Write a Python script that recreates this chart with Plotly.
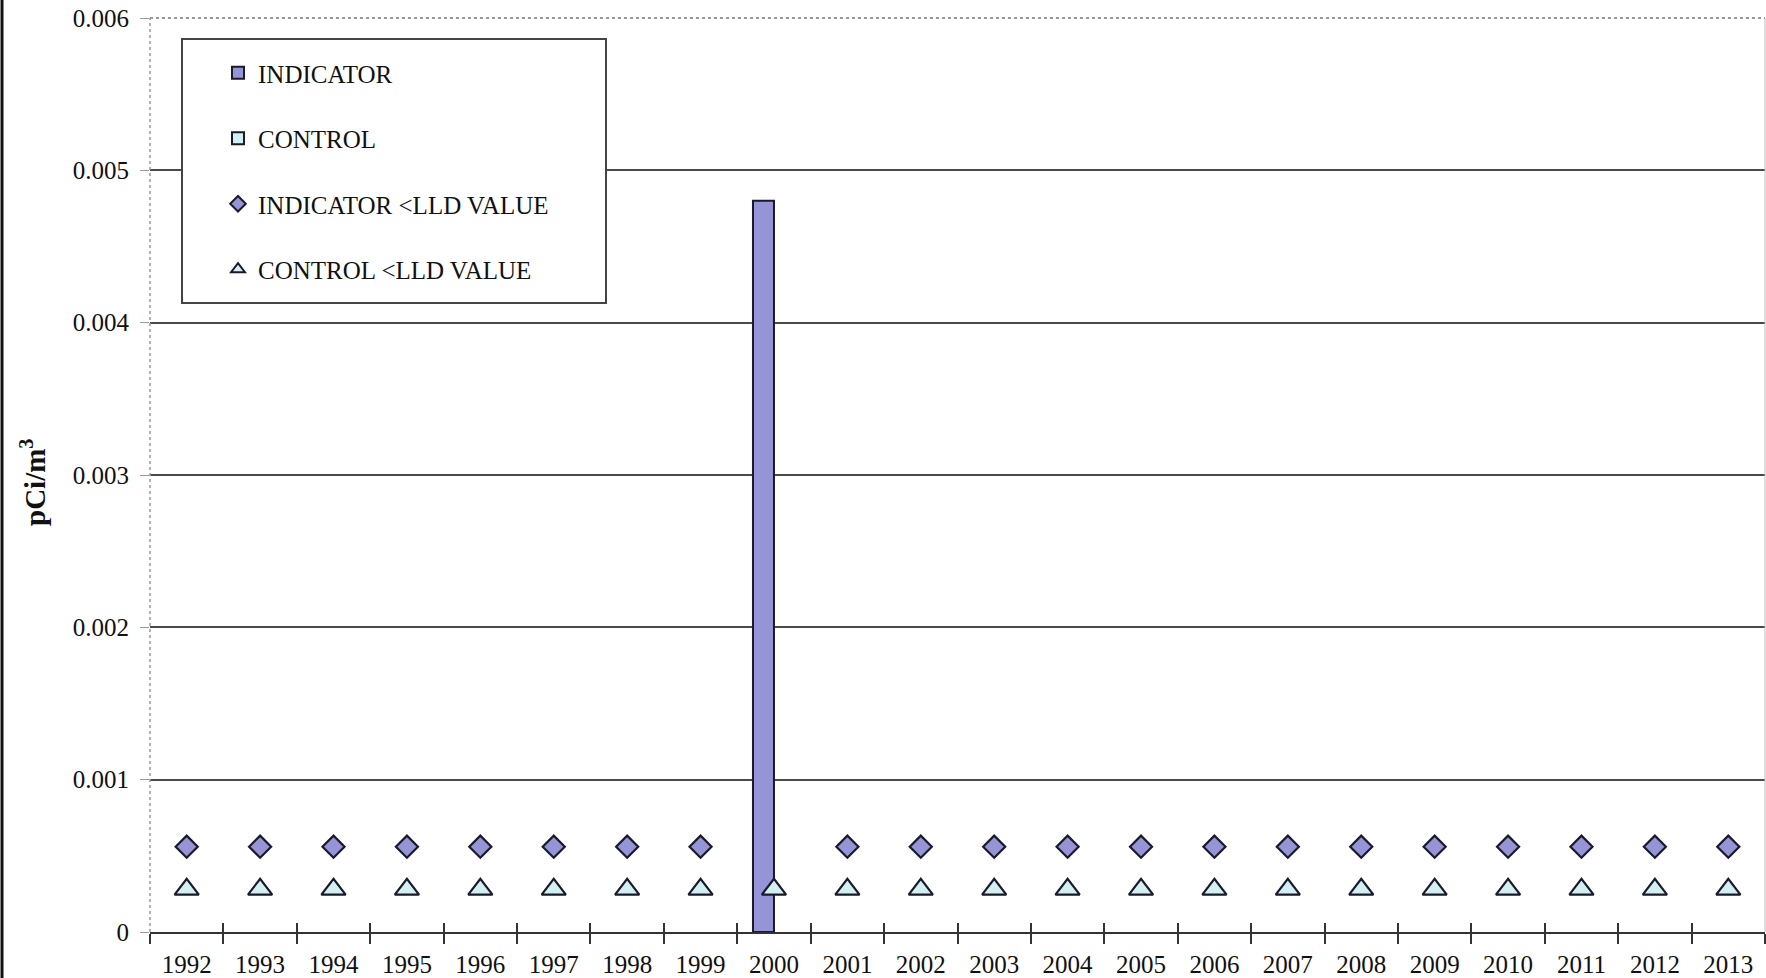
import plotly.graph_objects as go

years = ["1992", "1993", "1994", "1995", "1996", "1997", "1998", "1999", "2000", "2001", "2002",
         "2003", "2004", "2005", "2006", "2007", "2008", "2009", "2010", "2011", "2012", "2013"]
indicator = [None, None, None, None, None, None, None, None, 0.0048, None, None,
             None, None, None, None, None, None, None, None, None, None, None]
control = [None, None, None, None, None, None, None, None, None, None, None,
           None, None, None, None, None, None, None, None, None, None, None]
indicator_lld = [0.00056, 0.00056, 0.00056, 0.00056, 0.00056, 0.00056, 0.00056, 0.00056, None, 0.00056, 0.00056,
                 0.00056, 0.00056, 0.00056, 0.00056, 0.00056, 0.00056, 0.00056, 0.00056, 0.00056, 0.00056, 0.00056]
control_lld = [0.00028, 0.00028, 0.00028, 0.00028, 0.00028, 0.00028, 0.00028, 0.00028, 0.00028, 0.00028, 0.00028,
               0.00028, 0.00028, 0.00028, 0.00028, 0.00028, 0.00028, 0.00028, 0.00028, 0.00028, 0.00028, 0.00028]
y_ticks = [0, 0.001, 0.002, 0.003, 0.004, 0.005, 0.006]
y_ticktext = ["0", "0.001", "0.002", "0.003", "0.004", "0.005", "0.006"]

IND_COLOR = "#9494d6"
CTL_COLOR = "#d2f0f2"
EDGE = "#1a1a2a"
FONT = "Liberation Serif, Times New Roman, serif"

fig = go.Figure()
fig.add_trace(go.Bar(x=years, y=indicator, name="INDICATOR", legendgroup="a",
                     marker=dict(color=IND_COLOR, line=dict(color=EDGE, width=2))))
fig.add_trace(go.Bar(x=years, y=control, name="CONTROL", legendgroup="b",
                     marker=dict(color=CTL_COLOR, line=dict(color=EDGE, width=2))))
fig.add_trace(go.Scatter(x=years, y=indicator_lld, name="INDICATOR <LLD VALUE", legendgroup="c",
                         mode="markers",
                         marker=dict(symbol="diamond", size=17, color=IND_COLOR,
                                     line=dict(color=EDGE, width=2.2))))
fig.add_trace(go.Scatter(x=years, y=control_lld, name="CONTROL <LLD VALUE", legendgroup="d",
                         mode="markers",
                         marker=dict(symbol="triangle-up", size=21, color=CTL_COLOR,
                                     line=dict(color=EDGE, width=2.2))))
# helper overlay axis that draws the upper half of the crossing x tick marks
fig.add_trace(go.Scatter(x=years, y=control, xaxis="x2", yaxis="y", mode="markers",
                         showlegend=False, hoverinfo="skip"))

W, H = 1766, 978
L, R, T, B = 150, 1, 18, 46
pw, ph = W - L - R, H - T - B

def px(x):
    return (x - L) / pw

def py(y):
    return (H - B - y) / ph

fig.update_layout(
    width=W, height=H,
    margin=dict(l=L, r=R, t=T, b=B),
    paper_bgcolor="white", plot_bgcolor="white",
    font=dict(family=FONT, size=24, color="#111"),
    barmode="group", bargap=0.428, bargroupgap=0,
    showlegend=True,
    legend=dict(x=px(218), y=py(50), xanchor="left", yanchor="top",
                bgcolor="rgba(0,0,0,0)", borderwidth=0,
                font=dict(family=FONT, size=25, color="#111"),
                tracegroupgap=30, itemsizing="constant"),
    xaxis=dict(type="category", categoryorder="array", categoryarray=years,
               range=[-0.5, 21.5], showgrid=False,
               showline=True, linecolor="#333", linewidth=2,
               ticks="outside", tickson="boundaries", ticklen=10, tickwidth=1.5, tickcolor="#333",
               ticklabelstandoff=9,
               tickfont=dict(family=FONT, size=25, color="#111")),
    xaxis2=dict(type="category", categoryorder="array", categoryarray=years,
                range=[-0.5, 21.5], overlaying="x", anchor="y", side="bottom",
                showgrid=False, showline=False, showticklabels=False,
                ticks="inside", tickson="boundaries", ticklen=9, tickwidth=1.5, tickcolor="#333"),
    yaxis=dict(range=[0, 0.006], tickvals=y_ticks, ticktext=y_ticktext,
               showgrid=True, gridcolor="#4a4a4a", gridwidth=1.5,
               zeroline=False, showline=False,
               ticks="outside", ticklen=9, tickwidth=1, tickcolor="#999",
               ticklabelstandoff=6,
               tickfont=dict(family=FONT, size=25, color="#111")),
    shapes=[
        # dotted top border
        dict(type="line", xref="paper", yref="paper", x0=0, x1=1, y0=1, y1=1,
             line=dict(color="white", width=3), layer="above"),
        dict(type="line", xref="paper", yref="paper", x0=0, x1=1, y0=1, y1=1,
             line=dict(color="#777", width=1.5, dash="dot"), layer="above"),
        # dotted left axis line
        dict(type="line", xref="paper", yref="paper", x0=0, x1=0, y0=0, y1=1,
             line=dict(color="#999", width=1.5, dash="dot"), layer="above"),
        # faint right border
        dict(type="line", xref="paper", yref="paper", x0=1, x1=1, y0=0, y1=1,
             line=dict(color="#bbb", width=1), layer="above"),
        # legend box
        dict(type="rect", xref="paper", yref="paper", x0=px(182), x1=px(606), y0=py(303), y1=py(39),
             fillcolor="white", line=dict(color="#444", width=2), layer="above"),
        # left page border
        dict(type="line", xref="paper", yref="paper", x0=px(2), x1=px(2), y0=py(978), y1=py(0),
             line=dict(color="#111", width=3), layer="above"),
    ],
    annotations=[
        dict(text="<b>pCi/m<sup>3</sup></b>", xref="paper", yref="paper",
             x=px(33), y=py(483), xanchor="center", yanchor="middle",
             textangle=-90, showarrow=False,
             font=dict(family=FONT, size=29, color="#111")),
    ],
)

fig.write_html("out.html", config={"displayModeBar": False},
               post_script="document.body.style.margin='0';document.body.style.overflow='hidden';")
